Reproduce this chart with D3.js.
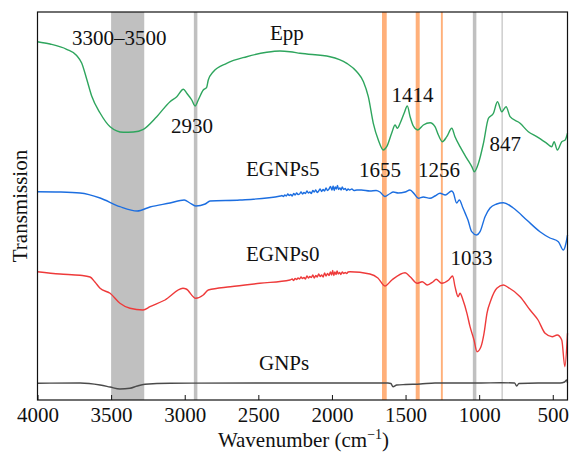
<!DOCTYPE html>
<html><head><meta charset="utf-8">
<script src="https://cdn.jsdelivr.net/npm/d3@7"></script>
<style>body{margin:0;background:#fff}svg{display:block}text{font-family:"Liberation Serif","Times New Roman",serif;fill:#111}</style>
</head><body><svg id="c" width="569" height="453"></svg>
<script>
// ---- data (transmission in arbitrary units, curves offset vertically) ----
const xTicks = [4000, 3500, 3000, 2500, 2000, 1500, 1000, 500];
const grayBands = [[3500, 3275], [2938, 2914], [1043, 1019], [848, 840]];
const orangeBands = [[1660, 1628], [1431, 1404], [1260, 1247]];

const eppWn = [4000,3915,3802,3734,3700,3666,3632,3575,3507,3417,3349,3281,3190,3100,3054,3009,2986,2952,2930,2908,2874,2851,2840,2806,2715,2579,2443,2353,2285,2217,2013,1899,1831,1786,1753,1719,1685,1651,1628,1594,1571,1556,1537,1510,1488,1469,1447,1417,1379,1333,1300,1277,1250,1220,1186,1164,1130,1084,1050,1033,1005,971,937,903,876,846,817,790,722,666,609,541,507,491,469,439,416,400];
const eppT  = [358.3,356,350.7,344.5,337,321,304,287,273.3,267.7,268,270.7,283.3,298.3,303.3,310.7,306.7,300,294,300,310,312.7,320,328.3,336.7,343.3,347.7,349,348.3,346.7,343.3,336.7,328.3,318.3,303.3,276.7,260,250,253.3,267,275,271.7,276.7,286.7,294,283.3,274,270,275,277.3,273.3,265,258.3,263.3,271.7,263.3,253.3,241.7,233.3,228.3,236.7,256.7,281.7,286.7,298.3,288.3,293.3,283.3,276.7,268.3,263.3,256.7,253.3,258.3,250,258.3,260,266.7];

const eg5Wn = [4000,3847,3711,3575,3440,3323,3236,3100,3003,2965,2925,2861,2828,2625,2350,2340,2330,2320,2310,2300,2290,2280,2270,2260,2250,2240,2230,2220,2210,2200,2190,2180,2170,2160,2150,2140,2130,2120,2110,2100,2090,2080,2070,2060,2050,2040,2030,2020,2010,2000,1992,1985,1978,1970,1962,1955,1946,1938,1930,1920,1910,1900,1890,1880,1865,1850,1830,1800,1742,1700,1674,1640,1610,1583,1550,1503,1470,1440,1413,1380,1334,1300,1266,1230,1187,1176,1153,1135,1110,1090,1076,1051,1017,994,960,926,881,836,768,677,587,519,462,428,410,400];
const eg5T  = [208.3,208,207,202,193.3,189,193,197,200,197,194,196,199,200,204,204.5,203.5,205,204,206,204.5,205.5,204,206.5,205,207,205.5,206,208,206,207.5,206.5,209,207,208,206.5,209.5,208,210,207.5,209,211,208.5,210.5,209,212,209.5,211,213.5,210,214,209.5,213,211,214.5,210.5,212,210,213,210.5,211.5,209.5,211,210,211,209.5,210,210,209,209.5,208,203.5,206,208,207,208,210,206,201.7,203,201.7,204,206.7,205,209,207.3,197,200,192,185,180,168.3,165,168.3,183.3,192,196,197.3,192,180,168.3,162,158.3,150,157,165];

const eg0Wn = [4000,3847,3711,3643,3610,3575,3507,3440,3372,3283,3236,3134,3012,2990,2925,2874,2840,2690,2490,2285,2270,2260,2250,2240,2230,2220,2210,2200,2190,2180,2170,2160,2150,2140,2130,2120,2110,2100,2090,2080,2070,2060,2050,2040,2030,2020,2010,2002,1995,1988,1980,1972,1965,1957,1948,1940,1930,1920,1910,1900,1890,1878,1742,1688,1640,1593,1503,1469,1421,1387,1353,1313,1292,1255,1207,1180,1164,1143,1130,1110,1083,1062,1035,1015,988,967,947,920,880,836,804,722,654,600,552,504,470,439,418,400];
const eg0T  = [128.3,126,124.7,123,118,111.7,106.7,96.7,91.7,90,93.3,100,111.7,111,101.7,105,110,113.3,116.7,120,121,119.5,121.5,120.5,122,121,123,121.5,122.5,121,124,122,123.5,122.5,125,122,124.5,123,126,123.5,125,123,127,124,126.5,124.5,128,125,129.5,124.5,128,125.5,129,126,127.5,125.5,128,126.5,127.5,126.5,128,128.3,126,122,114,120,127.3,123.3,116.7,118.3,115,118.3,120.7,116.7,120,124,113.3,103.3,106.7,100,86.7,73.3,60,48.3,53.3,66.7,86.7,100,111.7,115,112.7,103.3,90,80,66.7,63.3,65,60,33.3,66.7];

const gnpWn = [4000,3711,3575,3507,3440,3372,3323,3270,3100,2500,2000,1620,1600,1585,1560,1500,1400,1300,1000,850,760,745,730,600,450,420,405,400];
const gnpT  = [16.7,17,15,13,11,11.7,14,15.7,16.7,17,17,17,16.5,13.3,15,15.5,16,17,17,17.3,17,14,16.5,17,17,18,20,17];

const series = [
  {name:"Epp",    wn:eppWn, t:eppT, color:"#2ea55d"},
  {name:"EGNPs5", wn:eg5Wn, t:eg5T, color:"#1c6ee0"},
  {name:"EGNPs0", wn:eg0Wn, t:eg0T, color:"#ee3a3a"},
  {name:"GNPs",   wn:gnpWn, t:gnpT, color:"#4a4a4a"}
];

// ---- layout ----
const L = 37.5, R = 567.5, T = 12, B = 400;
const FONT = '"Liberation Serif","Times New Roman",serif';
const svg = d3.select("#c");
const x = d3.scaleLinear().domain([4000, 400]).range([L, R]);
const y = d3.scaleLinear().domain([0, 388]).range([B, T]);

svg.append("g").selectAll("rect").data(grayBands).join("rect")
  .attr("x", d => x(d[0])).attr("width", d => x(d[1]) - x(d[0]))
  .attr("y", T).attr("height", B - T).attr("fill", "#c0c0c0");
svg.append("g").selectAll("rect").data(orangeBands).join("rect")
  .attr("x", d => x(d[0])).attr("width", d => x(d[1]) - x(d[0]))
  .attr("y", T).attr("height", B - T).attr("fill", "#ffb07a");

const line = d3.line().x(d => x(d[0])).y(d => y(d[1])).curve(d3.curveMonotoneX);
series.forEach(s => {
  svg.append("path").datum(s.wn.map((w, i) => [w, s.t[i]]))
    .attr("d", line).attr("fill", "none").attr("stroke", s.color).attr("stroke-width", 1.4);
});

svg.append("rect").attr("x", L).attr("y", T).attr("width", R - L).attr("height", B - T)
  .attr("fill", "none").attr("stroke", "#111").attr("stroke-width", 1.2);
const ax = svg.append("g").attr("transform", `translate(0,${B})`)
  .call(d3.axisBottom(x).tickValues(xTicks).tickSize(-5).tickPadding(7).tickFormat(d3.format("d")));
ax.select(".domain").remove();
ax.attr("font-family", FONT);
ax.selectAll("line").attr("stroke", "#111");
ax.selectAll("text").attr("font-size", 21).attr("fill", "#111").style("font-family", FONT);

const notes = [
  ["Epp", 270, 40], ["3300\u20133500", 72, 45], ["2930", 171, 133], ["1414", 391.5, 101.5],
  ["1655", 359, 176.5], ["1256", 418, 176.5], ["847", 489.5, 151], ["EGNPs5", 246, 175.5],
  ["EGNPs0", 246, 261], ["1033", 450.5, 265], ["GNPs", 259, 370]
];
svg.append("g").selectAll("text").data(notes).join("text")
  .attr("x", d => d[1]).attr("y", d => d[2]).attr("font-size", 21).text(d => d[0]);

svg.append("text").attr("transform", `translate(26.5,${(T + B) / 2}) rotate(-90)`)
  .attr("text-anchor", "middle").attr("font-size", 21).text("Transmission");

const xt = svg.append("text").attr("x", (L + R) / 2 + 1).attr("y", 447)
  .attr("text-anchor", "middle").attr("font-size", 21);
xt.append("tspan").text("Wavenumber (cm");
xt.append("tspan").attr("dy", -8).attr("font-size", 14).text("\u22121");
xt.append("tspan").attr("dy", 8).text(")");
</script></body></html>
